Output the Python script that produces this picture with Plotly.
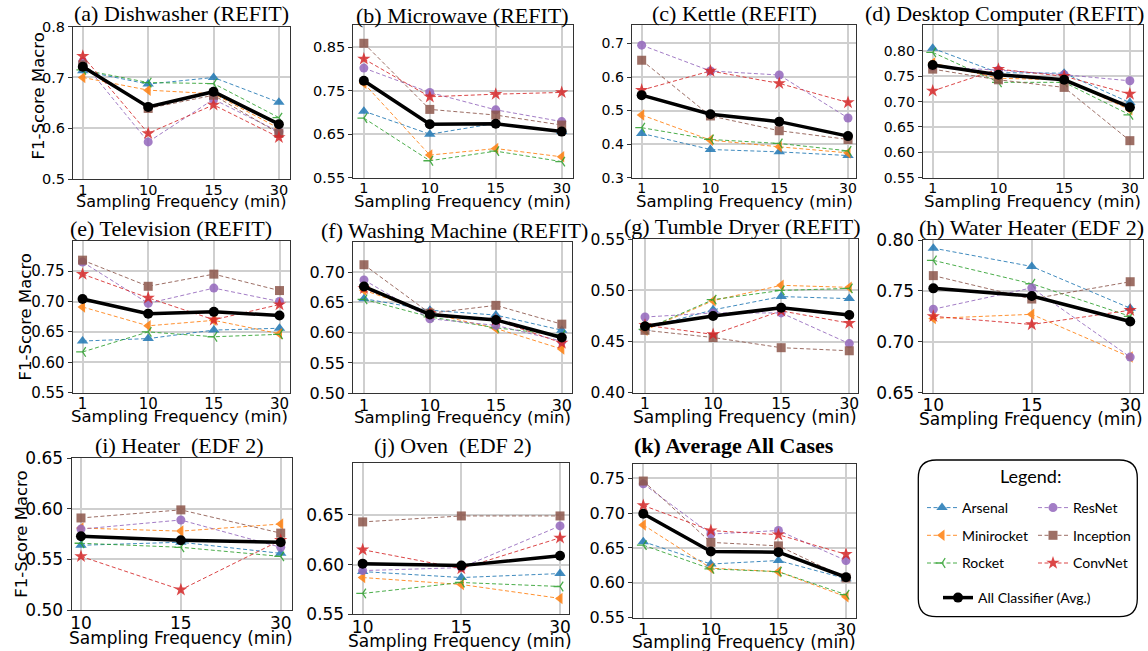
import plotly.graph_objects as go

W, H = 1148, 651

# ---------------- data ----------------
x_refit = ["1", "10", "15", "30"]
x_edf = ["10", "15", "30"]

classifiers = ["Arsenal", "Minirocket", "Rocket", "ResNet", "Inception", "ConvNet"]
AVG = "All Classifier (Avg.)"

dishwasher = {
    "Arsenal":    [0.713, 0.687, 0.700, 0.651],
    "Minirocket": [0.700, 0.675, 0.668, 0.600],
    "Rocket":     [0.715, 0.690, 0.688, 0.621],
    "ResNet":     [0.731, 0.573, 0.657, 0.593],
    "Inception":  [0.725, 0.639, 0.665, 0.590],
    "ConvNet":    [0.742, 0.590, 0.646, 0.582],
    AVG:          [0.721, 0.642, 0.672, 0.608],
}
microwave = {
    "Arsenal":    [0.703, 0.650, 0.675, 0.656],
    "Minirocket": [0.767, 0.602, 0.617, 0.598],
    "Rocket":     [0.687, 0.589, 0.611, 0.587],
    "ResNet":     [0.802, 0.746, 0.706, 0.679],
    "Inception":  [0.859, 0.707, 0.694, 0.671],
    "ConvNet":    [0.823, 0.736, 0.742, 0.746],
    AVG:          [0.773, 0.673, 0.674, 0.656],
}
kettle = {
    "Arsenal":    [0.432, 0.384, 0.377, 0.366],
    "Minirocket": [0.487, 0.412, 0.392, 0.374],
    "Rocket":     [0.449, 0.414, 0.402, 0.380],
    "ResNet":     [0.695, 0.618, 0.606, 0.478],
    "Inception":  [0.650, 0.484, 0.440, 0.414],
    "ConvNet":    [0.561, 0.618, 0.581, 0.524],
    AVG:          [0.546, 0.489, 0.467, 0.424],
}
desktop = {
    "Arsenal":    [0.805, 0.757, 0.756, 0.698],
    "Minirocket": [0.776, 0.746, 0.743, 0.684],
    "Rocket":     [0.797, 0.738, 0.738, 0.674],
    "ResNet":     [0.769, 0.762, 0.753, 0.741],
    "Inception":  [0.764, 0.743, 0.728, 0.623],
    "ConvNet":    [0.721, 0.764, 0.750, 0.715],
    AVG:          [0.772, 0.753, 0.743, 0.689],
}
television = {
    "Arsenal":    [0.635, 0.639, 0.653, 0.656],
    "Minirocket": [0.691, 0.660, 0.669, 0.647],
    "Rocket":     [0.617, 0.650, 0.642, 0.646],
    "ResNet":     [0.765, 0.697, 0.722, 0.700],
    "Inception":  [0.768, 0.725, 0.745, 0.718],
    "ConvNet":    [0.745, 0.706, 0.670, 0.695],
    AVG:          [0.704, 0.680, 0.683, 0.677],
}
washing = {
    "Arsenal":    [0.656, 0.637, 0.629, 0.604],
    "Minirocket": [0.670, 0.632, 0.607, 0.573],
    "Rocket":     [0.655, 0.626, 0.608, 0.596],
    "ResNet":     [0.687, 0.623, 0.612, 0.586],
    "Inception":  [0.712, 0.632, 0.645, 0.614],
    "ConvNet":    [0.673, 0.632, 0.621, 0.583],
    AVG:          [0.676, 0.630, 0.621, 0.592],
}
tumble = {
    "Arsenal":    [0.463, 0.481, 0.494, 0.492],
    "Minirocket": [0.461, 0.490, 0.505, 0.503],
    "Rocket":     [0.462, 0.491, 0.500, 0.502],
    "ResNet":     [0.474, 0.478, 0.478, 0.448],
    "Inception":  [0.461, 0.454, 0.444, 0.441],
    "ConvNet":    [0.466, 0.457, 0.480, 0.468],
    AVG:          [0.465, 0.475, 0.483, 0.476],
}
water_heater = {
    "Arsenal":    [0.792, 0.774, 0.733],
    "Minirocket": [0.723, 0.727, 0.685],
    "Rocket":     [0.780, 0.757, 0.725],
    "ResNet":     [0.732, 0.753, 0.685],
    "Inception":  [0.765, 0.742, 0.759],
    "ConvNet":    [0.725, 0.717, 0.731],
    AVG:          [0.7525, 0.745, 0.720],
}
heater = {
    "Arsenal":    [0.564, 0.567, 0.556],
    "Minirocket": [0.581, 0.578, 0.585],
    "Rocket":     [0.566, 0.562, 0.553],
    "ResNet":     [0.580, 0.589, 0.562],
    "Inception":  [0.591, 0.599, 0.576],
    "ConvNet":    [0.553, 0.520, 0.569],
    AVG:          [0.573, 0.569, 0.567],
}
oven = {
    "Arsenal":    [0.593, 0.587, 0.591],
    "Minirocket": [0.587, 0.580, 0.566],
    "Rocket":     [0.571, 0.582, 0.578],
    "ResNet":     [0.594, 0.597, 0.639],
    "Inception":  [0.643, 0.649, 0.649],
    "ConvNet":    [0.615, 0.596, 0.627],
    AVG:          [0.601, 0.599, 0.609],
}
average_all = {
    "Arsenal":    [0.659, 0.627, 0.632, 0.606],
    "Minirocket": [0.683, 0.621, 0.616, 0.580],
    "Rocket":     [0.654, 0.620, 0.616, 0.583],
    "ResNet":     [0.742, 0.670, 0.675, 0.632],
    "Inception":  [0.746, 0.658, 0.653, 0.607],
    "ConvNet":    [0.711, 0.675, 0.669, 0.641],
    AVG:          [0.699, 0.645, 0.644, 0.608],
}

titles = ["(a) Dishwasher (REFIT)", "(b) Microwave (REFIT)", "(c) Kettle (REFIT)",
          "(d) Desktop Computer (REFIT)", "(e) Television (REFIT)",
          "(f) Washing Machine (REFIT)", "(g) Tumble Dryer (REFIT)",
          "(h) Water Heater (EDF 2)", "(i) Heater  (EDF 2)", "(j) Oven  (EDF 2)",
          "<b>(k) Average All Cases</b>"]
x_label = "Sampling Frequency (min)"
y_label = "F1-Score Macro"

# ---------------- styles / layout ----------------
STY = {
    "Arsenal":    dict(color="#1f77b4", symbol="triangle-up", size=10),
    "Minirocket": dict(color="#ff7f0e", symbol="triangle-left", size=10),
    "Rocket":     dict(color="#2ca02c", symbol="y-left", size=8),
    "ResNet":     dict(color="#9467bd", symbol="circle", size=9),
    "Inception":  dict(color="#8c564b", symbol="square", size=9),
    "ConvNet":    dict(color="#d62728", symbol="star", size=10),
}
LEG = {"Arsenal": "legend", "Minirocket": "legend", "Rocket": "legend",
       "ResNet": "legend2", "Inception": "legend2", "ConvNet": "legend2",
       AVG: "legend3"}

# each panel: data, cats, rect(L,R,T,B) px, xrange, yrange, ytick vals, fmt, tick font,
# title centre, x-title centre, x-title size, y-label centre
panels = [
    (dishwasher, x_refit, (73, 290, 26.7, 179), [-0.15, 3.17], [0.5, 0.8],
     [0.5, 0.6, 0.7, 0.8], ".1f", 14.5, (181, 14), (181, 201.5), 16, (37.5, 96)),
    (microwave, x_refit, (353.3, 572.7, 25, 177.7), [-0.16, 3.167], [0.55, 0.901],
     [0.55, 0.65, 0.75, 0.85], ".2f", 14.5, (462.5, 15), (462, 201.5), 16.5, None),
    (kettle, x_refit, (631.7, 856, 25, 177.7), [-0.145, 3.116], [0.3, 0.755],
     [0.3, 0.4, 0.5, 0.6, 0.7], ".1f", 14, (734, 13.5), (744, 201), 16.5, None),
    (desktop, x_refit, (922.7, 1143, 25, 177.7), [-0.152, 3.2], [0.55, 0.851],
     [0.55, 0.60, 0.65, 0.70, 0.75, 0.80], ".2f", 14, (1004, 14), (1032.7, 201.5), 16.5, None),
    (television, x_refit, (72.7, 290, 240.7, 392.7), [-0.15, 3.16], [0.55, 0.80],
     [0.55, 0.60, 0.65, 0.70, 0.75], ".2f", 15, (171, 228), (179, 416.7), 16.5, (25.7, 316.7)),
    (washing, x_refit, (353.3, 571.7, 241.7, 393.3), [-0.162, 3.15], [0.5, 0.75],
     [0.50, 0.55, 0.60, 0.65, 0.70], ".2f", 16, (454, 230), (462, 417.3), 16.5, None),
    (tumble, x_refit, (633.3, 858, 239.3, 392.7), [-0.172, 3.128], [0.40, 0.55],
     [0.40, 0.45, 0.50, 0.55], ".2f", 15.5, (741.7, 226.7), (745, 416.7), 17, None),
    (water_heater, x_edf, (922.7, 1143, 240, 392.7), [-0.108, 2.13], [0.65, 0.80],
     [0.65, 0.70, 0.75, 0.80], ".2f", 17, (1031, 227), (1031, 419.3), 17, None),
    (heater, x_edf, (71.7, 291.7, 458.3, 610), [-0.093, 2.11], [0.50, 0.65],
     [0.50, 0.55, 0.60, 0.65], ".2f", 17, (179, 445), (180.7, 638.3), 17, (20.7, 534)),
    (oven, x_edf, (352.7, 569.3, 463.3, 614.3), [-0.101, 2.094], [0.55, 0.702],
     [0.55, 0.60, 0.65], ".2f", 17, (453, 445), (460, 641), 17, None),
    (average_all, x_refit, (633.3, 856, 464.3, 617.7), [-0.148, 3.148], [0.55, 0.77],
     [0.55, 0.60, 0.65, 0.70, 0.75], ".2f", 16, (734, 445.7), (744, 641.7), 17, None),
]


def px(x):
    return x / W


def py(y):
    return 1 - y / H


SANS = "DejaVu Sans"
SERIF = "Liberation Serif"
LEGFONT = "Lato"

fig = go.Figure()
annotations = []
layout_axes = {}

for k, (data, cats, rect, xr, yr, yt, fmt, fs, tpos, xtpos, xtfs, ylpos) in enumerate(panels, start=1):
    xa = "x" if k == 1 else f"x{k}"
    ya = "y" if k == 1 else f"y{k}"
    for name in classifiers:
        s = STY[name]
        marker = dict(color=s["color"], symbol=s["symbol"], size=s["size"],
                      line=dict(width=1.3 if s["symbol"] == "y-left" else 0, color=s["color"]))
        fig.add_trace(go.Scatter(
            x=cats, y=data[name], name=name, mode="lines+markers",
            line=dict(color=s["color"], width=1, dash="4px,2.5px"),
            marker=marker, opacity=0.85, xaxis=xa, yaxis=ya,
            legend=LEG[name], legendgroup=name, showlegend=(k == 1)))
    fig.add_trace(go.Scatter(
        x=cats, y=data[AVG], name=AVG, mode="lines+markers",
        line=dict(color="black", width=3.5), marker=dict(color="black", size=10, symbol="circle"),
        xaxis=xa, yaxis=ya, legend=LEG[AVG], legendgroup=AVG, showlegend=(k == 1)))

    L, R, T, B = rect
    xkey = "xaxis" if k == 1 else f"xaxis{k}"
    ykey = "yaxis" if k == 1 else f"yaxis{k}"
    common = dict(showline=True, mirror=True, linecolor="#333", linewidth=1.2,
                  showgrid=True, gridcolor="#cfcfcf", gridwidth=1.5, zeroline=False,
                  automargin=False, ticklabeloverflow="allow",
                  tickfont=dict(family=SANS, size=fs, color="black"))
    layout_axes[xkey] = dict(domain=[px(L), px(R)], anchor=ya, type="category",
                             categoryorder="array", categoryarray=cats, range=xr,
                             ticks="", ticklabelstandoff=-3, **common)
    layout_axes[ykey] = dict(domain=[py(B), py(T)], anchor=xa, range=yr,
                             ticks="outside", ticklen=4, tickcolor="#333", tickwidth=1,
                             tickvals=yt, ticktext=[format(v, fmt) for v in yt], **common)

    annotations.append(dict(text=titles[k - 1], x=px(tpos[0]), y=py(tpos[1]), xref="paper", yref="paper",
                            xanchor="center", yanchor="middle", showarrow=False,
                            font=dict(family=SERIF, size=22, color="black")))
    annotations.append(dict(text=x_label, x=px(xtpos[0]), y=py(xtpos[1]), xref="paper", yref="paper",
                            xanchor="center", yanchor="middle", showarrow=False,
                            font=dict(family=SANS, size=xtfs, color="black")))
    if ylpos is not None:
        annotations.append(dict(text=y_label, x=px(ylpos[0]), y=py(ylpos[1]), xref="paper", yref="paper",
                                xanchor="center", yanchor="middle", showarrow=False, textangle=-90,
                                font=dict(family=SANS, size=16.5, color="black")))

# legend box
bx0, bx1, by0, by1, r = 918.3, 1137.3, 460, 616.7, 18
path = (f"M {px(bx0 + r)},{py(by0)} L {px(bx1 - r)},{py(by0)} "
        f"Q {px(bx1)},{py(by0)} {px(bx1)},{py(by0 + r)} "
        f"L {px(bx1)},{py(by1 - r)} Q {px(bx1)},{py(by1)} {px(bx1 - r)},{py(by1)} "
        f"L {px(bx0 + r)},{py(by1)} Q {px(bx0)},{py(by1)} {px(bx0)},{py(by1 - r)} "
        f"L {px(bx0)},{py(by0 + r)} Q {px(bx0)},{py(by0)} {px(bx0 + r)},{py(by0)} Z")
shapes = [dict(type="path", path=path, xref="paper", yref="paper",
               line=dict(color="black", width=1.3), fillcolor="rgba(0,0,0,0)")]
annotations.append(dict(text="Legend:", x=px(1030), y=py(476), xref="paper", yref="paper",
                        xanchor="center", yanchor="middle", showarrow=False,
                        font=dict(family=LEGFONT, size=18, color="black")))

leg_common = dict(bgcolor="rgba(0,0,0,0)", borderwidth=0, xanchor="left", yanchor="top",
                  font=dict(family=LEGFONT, size=14, color="black"), itemwidth=30,
                  tracegroupgap=6.5, traceorder="grouped")

fig.update_layout(
    width=W, height=H, margin=dict(l=0, r=0, t=0, b=0, autoexpand=False),
    paper_bgcolor="white", plot_bgcolor="white",
    annotations=annotations, shapes=shapes,
    legend=dict(x=px(922), y=py(492), **leg_common),
    legend2=dict(x=px(1033), y=py(492), **leg_common),
    legend3=dict(x=px(938), y=py(582), **leg_common),
    **layout_axes,
)

# remove the browser's default page margin so the figure fills the window exactly
fig.write_html("out.html", config={"displayModeBar": False},
               post_script="document.body.style.margin='0px';")
